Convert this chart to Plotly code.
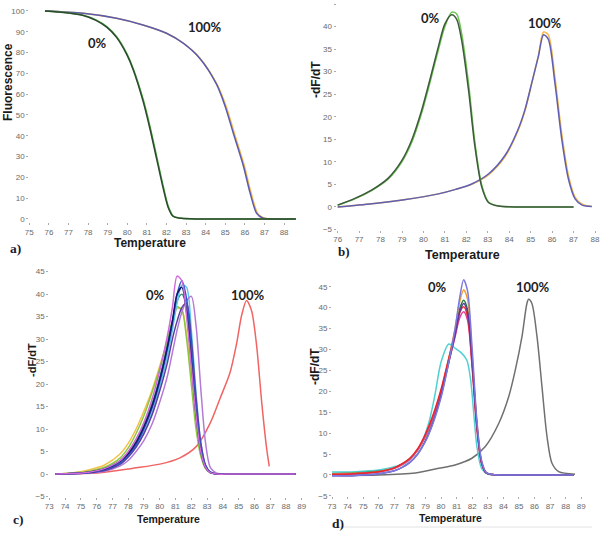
import plotly.graph_objects as go

# ---------------- data ----------------
# Panel a: melting curves (fluorescence)
a_t_0pct_green = [75.8, 76.9, 77.75, 78.4, 78.95, 79.45, 79.97, 80.3, 80.82, 81.16, 81.5, 81.84, 82.1, 82.35, 82.77, 83.7, 88.6]
a_v_0pct_green = [100, 99.2, 98, 95.7, 92.5, 87.7, 79.6, 72.4, 57.2, 44.4, 30, 15.5, 5.9, 1.4, 0.3, 0, 0]
a_t_0pct_dark = [75.8, 76.9, 77.75, 78.4, 78.95, 79.45, 79.97, 80.3, 80.8, 81.14, 81.48, 81.82, 82.08, 82.33, 82.75, 83.7, 88.6]
a_v_0pct_dark = [100, 99.1, 97.8, 95.5, 92.2, 87.3, 79.1, 71.8, 56.8, 44.0, 29.6, 15.2, 5.7, 1.3, 0.3, 0, 0]
a_t_100pct_blue = [75.8, 77.75, 79.45, 80.8, 82.0, 82.85, 83.7, 84.55, 85.0, 85.41, 85.92, 86.26, 86.6, 86.9, 87.3, 88.6]
a_v_100pct_blue = [100, 98.9, 96.5, 93.3, 89.3, 84.5, 77.2, 64.8, 54, 41.2, 25.6, 12.7, 2.7, 0.5, 0, 0]
a_t_100pct_orange = [75.8, 77.75, 79.45, 80.8, 82.0, 82.85, 83.7, 84.55, 85.05, 85.46, 85.97, 86.31, 86.65, 86.95, 87.35, 88.6]
a_v_100pct_orange = [100, 98.9, 96.5, 93.3, 89.3, 84.6, 77.4, 65.2, 54, 41.2, 25.6, 12.7, 2.7, 0.5, 0, 0]

# Panel b: derivative curves
b_t_0pct = [76.0, 76.8, 77.6, 78.36, 78.98, 79.45, 79.92, 80.3, 80.7, 81.0, 81.32, 81.55, 81.78, 82.1, 82.4, 82.72, 83.03, 83.5, 85.36, 87.0]
b_v_0pct_green = [0.37, 1.8, 3.7, 6.2, 9.9, 14.3, 20.9, 27.5, 34.9, 40, 43.2, 42.8, 38.5, 27.5, 14.3, 4.8, 1.1, 0.2, 0, 0]
b_v_0pct_dark = [0.4, 1.9, 3.8, 6.4, 10.2, 14.8, 21.5, 28.2, 35.6, 40.6, 42.6, 41.6, 37.0, 26.0, 13.4, 4.4, 1.0, 0.2, 0, 0]
b_t_100pct = [76.0, 77.6, 79.1, 80.7, 81.5, 82.25, 83.03, 83.8, 84.42, 84.74, 85.05, 85.36, 85.6, 85.82, 86.13, 86.45, 86.76, 87.07, 87.4, 87.85]
b_v_100pct_blue = [0, 0.7, 1.6, 2.9, 3.9, 5.1, 7.3, 11.4, 17.3, 21.7, 27.5, 33.4, 38.2, 37.2, 27.5, 15, 6.2, 1.8, 0.4, 0.1]
b_v_100pct_orange = [0, 0.7, 1.6, 2.9, 3.9, 5.0, 7.1, 11.1, 17.0, 21.4, 27.4, 33.6, 38.8, 38.2, 28.8, 16.2, 7.0, 2.2, 0.6, 0.1]

# Panel c: derivative curves, many 0% samples + one 100% reference
c_t_0pct = [73.4, 74.5, 75.5, 76.5, 77.5, 78.0, 78.5, 79.0, 79.5, 80.0, 80.5, 80.8, 81.1, 81.4, 81.7, 82.0, 82.3, 82.6, 82.9, 83.2, 83.6, 84.5, 86.0, 88.6]
c_v_yellow = [0, 0.3, 0.9, 2.0, 4.5, 6.8, 10, 14, 18.5, 24, 30, 34, 36.8, 36.5, 31, 22, 12, 5, 1.5, 0.4, 0.1, 0, 0, 0]
c_v_green = [0, 0.2, 0.6, 1.5, 3.6, 5.8, 9, 13, 18, 23.5, 30, 34, 37.2, 36.5, 30, 20, 10, 4, 1.2, 0.3, 0, 0, 0, 0]
c_v_navy = [0, 0.1, 0.4, 1.1, 2.8, 4.5, 7, 10.5, 15, 21, 28.5, 34, 40, 41.5, 36, 25, 13, 5, 1.5, 0.3, 0, 0, 0, 0]
c_v_blue = [0, 0.1, 0.3, 1.0, 2.5, 4.2, 6.5, 10, 14.5, 20.5, 28, 33.5, 40, 43, 39, 28, 15, 6, 1.8, 0.4, 0, 0, 0, 0]
c_v_cyan = [0, 0.1, 0.3, 0.9, 2.3, 3.8, 6, 9.3, 13.5, 19.5, 26.5, 32, 38, 42, 41.5, 32, 18, 7, 2, 0.5, 0, 0, 0, 0]
c_v_magenta = [0, 0.1, 0.4, 1.2, 3, 5, 7.8, 11.5, 16.5, 23, 31, 37, 44, 43, 35, 24, 13, 5, 1.5, 0.3, 0, 0, 0, 0]
c_v_lilac = [0, 0.05, 0.2, 0.6, 1.8, 3, 5, 7.5, 11, 16, 22, 27, 32, 36, 38.5, 39.5, 33, 19, 7, 1.5, 0.2, 0, 0, 0]
c_v_teal = [0, 0.1, 0.4, 1.2, 3, 4.8, 7.3, 11, 15.5, 21.5, 29, 34, 38.5, 40, 37, 27, 14, 5.5, 1.6, 0.3, 0, 0, 0, 0]
c_v_purple = [0, 0.1, 0.3, 0.8, 2.2, 3.8, 6, 9, 13, 18.5, 25, 30, 34, 37, 38, 30, 17, 7, 2, 0.4, 0, 0, 0, 0]
c_t_100pct = [73.46, 76.21, 78.32, 80.01, 81.28, 82.34, 83.18, 83.82, 84.45, 84.87, 85.19, 85.5, 85.82, 86.14, 86.46, 86.78, 86.94]
c_v_100pct = [0, 0.3, 1.3, 2.2, 3.6, 6.2, 11.2, 16.8, 22.5, 29, 35.3, 38.6, 36.3, 28.5, 16, 5.5, 1.7]

# Panel d: derivative curves
d_t_0pct = [73.0, 74.5, 76.0, 77.0, 77.5, 78.0, 78.5, 79.0, 79.5, 80.0, 80.5, 80.9, 81.2, 81.45, 81.7, 82.0, 82.3, 82.6, 82.9, 83.3, 84.5, 86.5, 88.5]
d_v_lavender = [-0.2, -0.1, 0.3, 1.0, 1.8, 3.0, 5.0, 8.0, 12.5, 18.5, 27, 35, 42.5, 46.7, 44, 30, 13, 3.5, 0.6, 0.1, 0, 0, 0]
d_v_orange = [0.2, 0.4, 0.8, 1.6, 2.5, 3.8, 6, 9.3, 14, 20, 28, 35, 41.5, 44.3, 42, 28.5, 12.5, 3.2, 0.5, 0.1, 0, 0, 0]
d_v_green = [0.3, 0.5, 0.9, 1.7, 2.6, 3.9, 6, 9.2, 13.8, 19.8, 27.5, 34, 39.8, 41.8, 39.5, 27, 12, 3, 0.5, 0.1, 0, 0, 0]
d_v_purple = [-0.2, -0.1, 0.3, 1.0, 1.8, 3.0, 5, 8.2, 12.8, 19, 27, 33.5, 39, 41, 39, 27, 12, 3, 0.5, 0.1, 0, 0, 0]
d_v_red = [0.1, 0.3, 0.8, 1.7, 2.7, 4.0, 6.3, 9.8, 14.5, 20.5, 28, 34, 38.8, 40.2, 38, 26, 11.5, 3, 0.5, 0.1, 0, 0, 0]
d_v_magenta = [0.1, 0.3, 0.7, 1.6, 2.5, 3.8, 6, 9.4, 14, 20, 27.2, 33, 37.6, 39, 37, 25.5, 11, 2.8, 0.5, 0.1, 0, 0, 0]
d_t_cyan = [73.0, 74.5, 76.0, 77.0, 77.7, 78.2, 78.6, 79.2, 79.6, 80.0, 80.5, 80.9, 81.3, 81.65, 81.9, 82.1, 82.3, 82.6, 83.0, 84.0, 86.5, 88.5]
d_v_cyan = [0.7, 0.8, 1.2, 2.0, 2.8, 4.5, 6.5, 12.3, 19, 27, 31.3, 30.3, 29.2, 27.5, 22.7, 14.7, 6.8, 1.6, 0.2, 0, 0, 0]
d_t_100pct = [73.5, 76.0, 78.35, 79.85, 80.9, 81.98, 82.84, 83.7, 84.34, 84.76, 85.19, 85.51, 85.62, 85.83, 86.16, 86.48, 86.8, 87.12, 87.55, 88.6]
d_v_100pct = [-0.1, 0, 0.5, 1.6, 2.4, 4, 6.8, 12.3, 18.7, 25, 33, 41, 42, 41, 33, 21, 9.2, 2.8, 0.8, 0.2]

# tick labels
a_xticks = list(range(75, 89))
a_yticks = list(range(0, 101, 10))
b_xticks = list(range(76, 89))
cd_xticks = list(range(73, 90))
bcd_yticks = list(range(-5, 46, 5))

# ---------------- figure ----------------
W, H = 610, 539
fig = go.Figure()


def add(x, y, color, xa, ya, width=1.5):
    fig.add_trace(go.Scatter(x=x, y=y, mode="lines", line=dict(color=color, width=width, shape="spline", smoothing=0.8),
                             xaxis=xa, yaxis=ya, showlegend=False, hoverinfo="skip"))


# panel a
add(a_t_100pct_orange, a_v_100pct_orange, "#f2b84b", "x", "y")
add(a_t_100pct_blue, a_v_100pct_blue, "#5b5bb0", "x", "y")
add(a_t_0pct_green, a_v_0pct_green, "#4caf3c", "x", "y")
add(a_t_0pct_dark, a_v_0pct_dark, "#2e4a32", "x", "y")
# panel b
add(b_t_100pct, b_v_100pct_orange, "#f2b84b", "x2", "y2")
add(b_t_100pct, b_v_100pct_blue, "#5f5fb5", "x2", "y2")
add(b_t_0pct, b_v_0pct_green, "#6cc550", "x2", "y2")
add(b_t_0pct, b_v_0pct_dark, "#3f5a3f", "x2", "y2")
# panel c
add(c_t_100pct, c_v_100pct, "#f06464", "x3", "y3")
for vals, col in [(c_v_yellow, "#f2c14e"), (c_v_green, "#8cc63f"), (c_v_teal, "#2e8b6a"),
                  (c_v_cyan, "#5cc8e8"), (c_v_lilac, "#b37ad6"), (c_v_purple, "#5a3fa0"),
                  (c_v_blue, "#3355cc"), (c_v_navy, "#15156e"), (c_v_magenta, "#cf6ad8")]:
    add(c_t_0pct, vals, col, "x3", "y3")
# panel d
add(d_t_100pct, d_v_100pct, "#707070", "x4", "y4")
add(d_t_cyan, d_v_cyan, "#4fd0d2", "x4", "y4")
for vals, col in [(d_v_green, "#1f7a3c"), (d_v_orange, "#f0a030"), (d_v_magenta, "#e0409a"),
                  (d_v_red, "#e8282a"), (d_v_purple, "#5a3a9e"), (d_v_lavender, "#7a7ae0")]:
    add(d_t_0pct, vals, col, "x4", "y4")

tickfont = dict(family="Liberation Sans Narrow, Liberation Sans, Arial", size=8, color="#6a6a6a")


def axes(n, xr, xpx, yr, ypx, xt, yt):
    s = "" if n == 1 else str(n)
    common = dict(showgrid=False, zeroline=False, showline=False, ticks="outside", ticklen=2,
                  tickcolor="#aaaaaa", tickwidth=1, tickfont=tickfont, automargin=False, fixedrange=True)
    fig.update_layout(**{
        "xaxis" + s: dict(range=xr, domain=[xpx[0] / W, xpx[1] / W], anchor="y" + s, tickvals=xt, **common),
        "yaxis" + s: dict(range=yr, domain=[1 - ypx[1] / H, 1 - ypx[0] / H], anchor="x" + s, tickvals=yt, **common),
    })


axes(1, [75, 89], (29.3, 303.7), [-1.5, 101], (8.9, 222.1), a_xticks, a_yticks)
axes(2, [75.95, 88.2], (336.6, 599.3), [-5, 45.8], (0.4, 229.5), b_xticks, bcd_yticks)
axes(3, [73, 89.3], (49.3, 306.5), [-5, 45.5], (269.4, 496.5), cd_xticks, bcd_yticks)
axes(4, [73, 89.2], (332, 584.4), [-5, 47.5], (276.3, 495.9), cd_xticks, bcd_yticks)

ann = []


def txt(x, y, s, size, family, color="#1a1a1a", angle=0):
    ann.append(dict(x=x / W, y=1 - y / H, xref="paper", yref="paper", text=s, showarrow=False,
                    font=dict(size=size, family=family, color=color), textangle=angle,
                    xanchor="center", yanchor="middle"))


sans_b = "Liberation Sans"
pct = "Lato"
serif = "Liberation Serif"
# axis titles
txt(8, 82, "<b>Fluorescence</b>", 12, sans_b, angle=-90)
txt(150, 243, "<b>Temperature</b>", 12, sans_b)
txt(316, 80, "<b>-dF/dT</b>", 12, sans_b, angle=-90)
txt(462, 255, "<b>Temperature</b>", 12.5, sans_b)
txt(32, 360, "<b>-dF/dT</b>", 11, sans_b, angle=-90)
txt(168, 519, "<b>Temperature</b>", 10.5, sans_b)
txt(315, 367, "<b>-dF/dT</b>", 12, sans_b, angle=-90)
txt(450, 518, "<b>Temperature</b>", 10.5, sans_b)
# group labels
txt(97, 43, "<b>0%</b>", 13, pct, "#222")
txt(205, 27, "<b>100%</b>", 13, pct, "#222")
txt(430, 18, "<b>0%</b>", 13, pct, "#222")
txt(545, 23, "<b>100%</b>", 13, pct, "#222")
txt(155, 295, "<b>0%</b>", 13, pct, "#222")
txt(248, 295, "<b>100%</b>", 13, pct, "#222")
txt(437, 287, "<b>0%</b>", 13, pct, "#222")
txt(533, 287, "<b>100%</b>", 13, pct, "#222")
# panel letters
txt(15, 249, "<b>a)</b>", 13.5, serif, "#1a1a30")
txt(344, 252, "<b>b)</b>", 13, serif, "#1a1a30")
txt(18, 519, "<b>c)</b>", 13.5, serif, "#1a1a30")
txt(338, 523, "<b>d)</b>", 13.5, serif, "#1a1a30")

fig.update_layout(
    width=W, height=H, template="none",
    margin=dict(l=0, r=0, t=0, b=0, pad=0),
    paper_bgcolor="white", plot_bgcolor="rgba(0,0,0,0)",
    annotations=ann, showlegend=False,
    shapes=[dict(type="line", xref="paper", yref="paper", x0=332 / W, x1=592 / W,
                 y0=1 - 527 / H, y1=1 - 527 / H, line=dict(color="#e2e2e2", width=1))],
)

fig.write_html("out.html", config={"displayModeBar": False},
               post_script="document.body.style.margin='0';document.body.style.overflow='hidden';")
